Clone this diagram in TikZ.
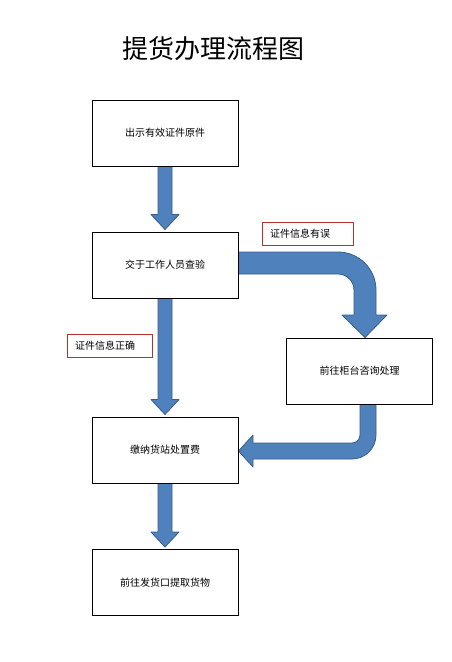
\documentclass[tikz,border=0pt]{standalone}
\usepackage{fontspec}
\setmainfont{Noto Sans CJK SC}
\usetikzlibrary{calc,backgrounds}
\definecolor{arrowblue}{RGB}{79,129,189}
\definecolor{arrowedge}{RGB}{56,93,138}
\definecolor{labelred}{RGB}{180,50,50}
\tikzset{
  stepbox/.style={draw=black, line width=1pt, minimum width=146pt, minimum height=66pt, inner sep=0pt, font=\fontsize{10}{12}\selectfont},
  labelbox/.style={draw=labelred, line width=0.8pt, minimum height=23pt, inner xsep=8pt, inner ysep=0pt, text width=75pt, align=left, font=\fontsize{10}{12}\selectfont},
  blockarrow/.style={fill=arrowblue, draw=arrowedge, line width=0.8pt, line join=round},
}
\newcommand\vblock[2]{%
  \filldraw[blockarrow] ($(#1.south)+(-7,0)$) -- ($(#2.north)+(-7,-17)$) -- ($(#2.north)+(-14,-17)$) -- ($(#2.north)+(0,-2)$) -- ($(#2.north)+(14,-17)$) -- ($(#2.north)+(7,-17)$) -- ($(#1.south)+(7,0)$) -- cycle;}
\begin{document}
\begin{tikzpicture}[x=1pt,y=-1pt]
\useasboundingbox (0,0) rectangle (452,662);
\node[font=\fontsize{26}{30}\selectfont] (title) at (213,49) {提货办理流程图};
\node[stepbox] (b1) at (165,133) {出示有效证件原件};
\node[stepbox] (b2) at (165,265) {交于工作人员查验};
\node[stepbox] (b4) at (359.5,371) {前往柜台咨询处理};
\node[stepbox] (b3) at (165,450) {缴纳货站处置费};
\node[stepbox] (b5) at (165,582.5) {前往发货口提取货物};
\node[labelbox] (l1) at (307.5,233.5) {证件信息有误};
\node[labelbox, text width=69pt] (l2) at (109.5,346) {证件信息正确};
\begin{scope}[on background layer]
\fill[white] (0,0) rectangle (452,662);
\vblock{b1}{b2}
\vblock{b2}{b3}
\vblock{b3}{b5}
% curved arrow b2 -> b4
\filldraw[blockarrow] (b2.east |- 0,252) -- (338,252)
  .. controls (359,252) and (376,269) .. (376,290)
  -- (376,315) -- (387,315) -- (365,0 |- b4.north) -- (342,315) -- (354,315) -- (354,290)
  .. controls (354,281.2) and (346.8,274) .. (338,274)
  -- (b2.east |- 0,274) -- cycle;
% return arrow b4 -> b3
\filldraw[blockarrow] (360,0 |- b4.south) -- (360,435)
  .. controls (360,439.4) and (356.4,443) .. (352,443)
  -- (253,443) -- (253,435) -- (b3.east |- 0,451) -- (253,467) -- (253,459) -- (352,459)
  .. controls (365.25,459) and (376,448.25) .. (376,435)
  -- (376,0 |- b4.south) -- cycle;
\end{scope}
\end{tikzpicture}
\end{document}
